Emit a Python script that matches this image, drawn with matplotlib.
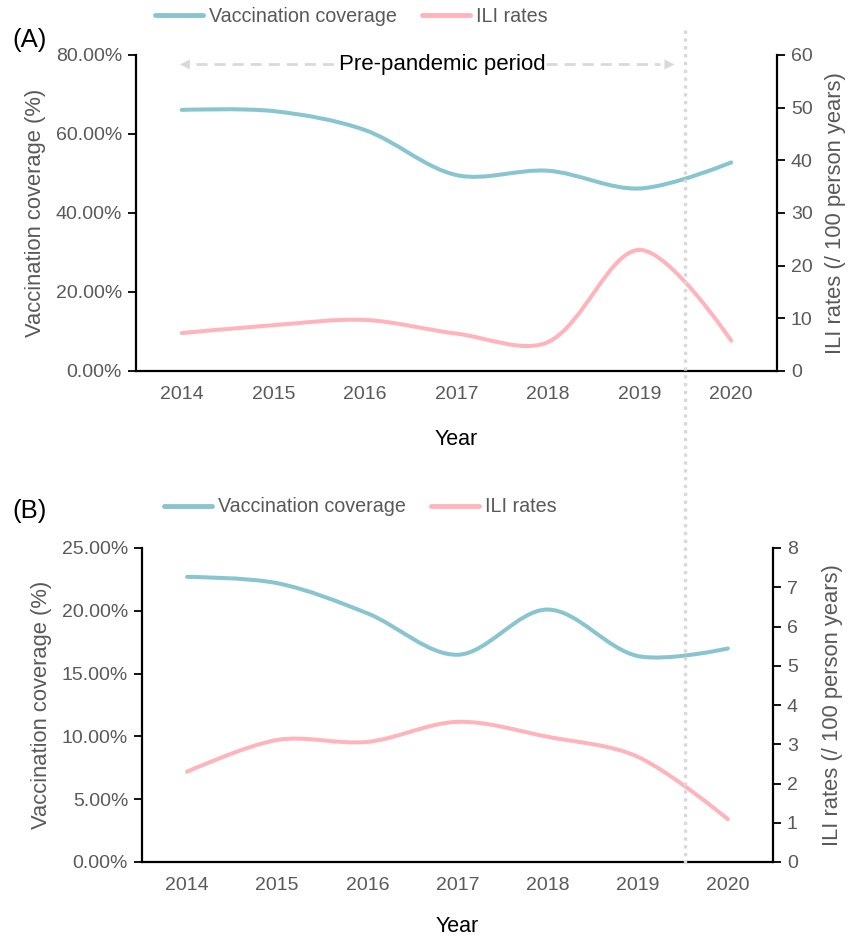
import numpy as np
import matplotlib
matplotlib.use("Agg")
import matplotlib.pyplot as plt
from matplotlib.path import Path
from matplotlib.patches import PathPatch
from matplotlib.lines import Line2D
from matplotlib.ticker import FuncFormatter, MultipleLocator

plt.rcParams['font.family'] = ['Liberation Sans', 'DejaVu Sans']

years = [2014, 2015, 2016, 2017, 2018, 2019, 2020]
# Panel A
vacc_a = [66.1, 65.8, 61.0, 49.6, 50.7, 46.2, 52.8]   # %
ili_a = [7.2, 8.7, 9.7, 7.1, 5.5, 23.0, 5.75]          # per 100 person years
# Panel B
vacc_b = [22.7, 22.2, 19.8, 16.5, 20.1, 16.4, 17.0]   # %
ili_b = [2.30, 3.11, 3.06, 3.57, 3.19, 2.68, 1.09]

legend_labels = ["Vaccination coverage", "ILI rates"]
panel_labels = ["(A)", "(B)"]
period_text = "Pre-pandemic period"

C_VAC = "#88C5D0"
C_ILI = "#FFB4BB"
GRAY_TXT = "#595959"


def smooth_path(ax, x, y, smooth=0.33):
    """Smoothed line through the data points (bezier, control points in pixel space)."""
    pts = ax.transData.transform(np.column_stack([x, y]))
    n = len(pts)
    verts = [tuple(pts[0])]
    codes = [Path.MOVETO]
    cp0 = pts[0].copy()
    for i in range(1, n):
        p = pts[i]
        if i == n - 1:
            cp1 = p.copy()
            ncp0 = None
        else:
            prev, nxt = pts[i - 1], pts[i + 1]
            v = nxt - prev
            lp = np.hypot(*(p - prev))
            ln = np.hypot(*(nxt - p))
            r = ln / (ln + lp)
            cp1 = p - v * smooth * (1 - r)
            ncp0 = p + v * smooth * r
        verts += [tuple(cp0), tuple(cp1), tuple(p)]
        codes += [Path.CURVE4] * 3
        cp0 = ncp0
    inv = ax.transData.inverted()
    return Path(inv.transform(np.array(verts)), codes)


W, H = 857, 936
fig = plt.figure(figsize=(W / 100, H / 100), dpi=100)


def px_axes(l, r, t, b):
    return fig.add_axes([l / W, 1 - b / H, (r - l) / W, (b - t) / H])


axA = px_axes(136, 777, 55, 371)
axB = px_axes(142, 773, 548, 862)

specs = [
    (axA, vacc_a, ili_a, 80, 20, 60, 10, -0.141, 1.075, -0.183),
    (axB, vacc_b, ili_b, 25, 5, 8, 1, -0.143, 1.078, -0.172),
]

for ax, vac, ili, lmax, lstep, rmax, rstep, lx, rx, xy in specs:
    ax2 = ax.twinx()
    ax.set_xlim(2013.5, 2020.5)
    ax2.set_xlim(2013.5, 2020.5)
    ax.set_ylim(0, lmax)
    ax2.set_ylim(0, rmax)
    ax.add_patch(PathPatch(smooth_path(ax, years, vac), fill=False, edgecolor=C_VAC,
                           lw=2.9, capstyle='round', zorder=3))
    ax2.add_patch(PathPatch(smooth_path(ax2, years, ili), fill=False, edgecolor=C_ILI,
                            lw=2.9, capstyle='round', zorder=3))
    ax.set_xticks(years)
    ax.set_xticklabels([str(y) for y in years])
    ax.yaxis.set_major_locator(MultipleLocator(lstep))
    ax.yaxis.set_major_formatter(FuncFormatter(lambda v, p: f"{v:.2f}%"))
    ax2.yaxis.set_major_locator(MultipleLocator(rstep))
    ax2.yaxis.set_major_formatter(FuncFormatter(lambda v, p: f"{v:g}"))
    for a in (ax, ax2):
        a.spines['top'].set_visible(False)
        for s in a.spines.values():
            s.set_linewidth(1.6)
    ax.spines['right'].set_visible(False)
    ax2.spines['left'].set_visible(False)
    ax2.spines['bottom'].set_visible(False)
    ax.tick_params(axis='x', length=0, pad=11, labelsize=14, labelcolor=GRAY_TXT)
    ax.tick_params(axis='y', length=6, width=1.3, pad=4, labelsize=14, labelcolor=GRAY_TXT)
    ax2.tick_params(axis='y', length=6, width=1.3, pad=4, labelsize=14, labelcolor=GRAY_TXT)
    ax.set_xlabel("Year", fontsize=15.5, color='black')
    ax.set_ylabel("Vaccination coverage (%)", fontsize=15.8, color=GRAY_TXT)
    ax2.set_ylabel("ILI rates (/ 100 person years)", fontsize=15.8, color=GRAY_TXT)
    ax.xaxis.set_label_coords(0.5, xy)
    ax.yaxis.set_label_coords(lx, 0.5)
    ax2.yaxis.set_label_coords(rx, 0.5)

# panel labels
fig.text(12 / W, 1 - 40 / H, panel_labels[0], fontsize=18.5, va='center', ha='left')
fig.text(12 / W, 1 - 511 / H, panel_labels[1], fontsize=18.5, va='center', ha='left')

# legends
handles = [Line2D([], [], color=C_VAC, lw=3.5, solid_capstyle='round'),
           Line2D([], [], color=C_ILI, lw=3.5, solid_capstyle='round')]
for (lgx, lgy) in [(155, 16), (164, 507)]:
    leg = fig.legend(handles, legend_labels, loc='center left',
                     bbox_to_anchor=(lgx / W, 1 - lgy / H), ncol=2, frameon=False,
                     fontsize=14.2, handlelength=2.45, handletextpad=0.3,
                     columnspacing=1.25, borderpad=0, borderaxespad=0)
    for t in leg.get_texts():
        t.set_color(GRAY_TXT)

# pre-pandemic annotation in panel A
arrow_y = 77.6
axA.text(2016.84, 76.2, period_text, fontsize=16, ha='center', va='baseline')
gray = "#D9D9D9"
axA.plot([2014.15, 2015.72], [arrow_y, arrow_y], ls=(0, (4, 2.5)), color=gray, lw=2)
axA.plot([2017.98, 2019.22], [arrow_y, arrow_y], ls=(0, (4, 2.5)), color=gray, lw=2)
axA.annotate("", xy=(2013.98, arrow_y), xytext=(2014.2, arrow_y),
             arrowprops=dict(arrowstyle='-|>,head_length=0.7,head_width=0.35',
                             color=gray, lw=0.1, shrinkA=0, shrinkB=0))
axA.annotate("", xy=(2019.38, arrow_y), xytext=(2019.16, arrow_y),
             arrowprops=dict(arrowstyle='-|>,head_length=0.7,head_width=0.35',
                             color=gray, lw=0.1, shrinkA=0, shrinkB=0))

# vertical dotted line at 2019.5 spanning both panels
xdisp = axA.transData.transform((2019.5, 0))[0]
xfig = xdisp / fig.bbox.width
fig.add_artist(Line2D([xfig, xfig], [1 - 30 / H, 1 - 866 / H], transform=fig.transFigure,
                      color=gray, lw=2.4, ls=(0, (1.0, 1.35)), zorder=5))

fig.savefig("out.png", dpi=100)
